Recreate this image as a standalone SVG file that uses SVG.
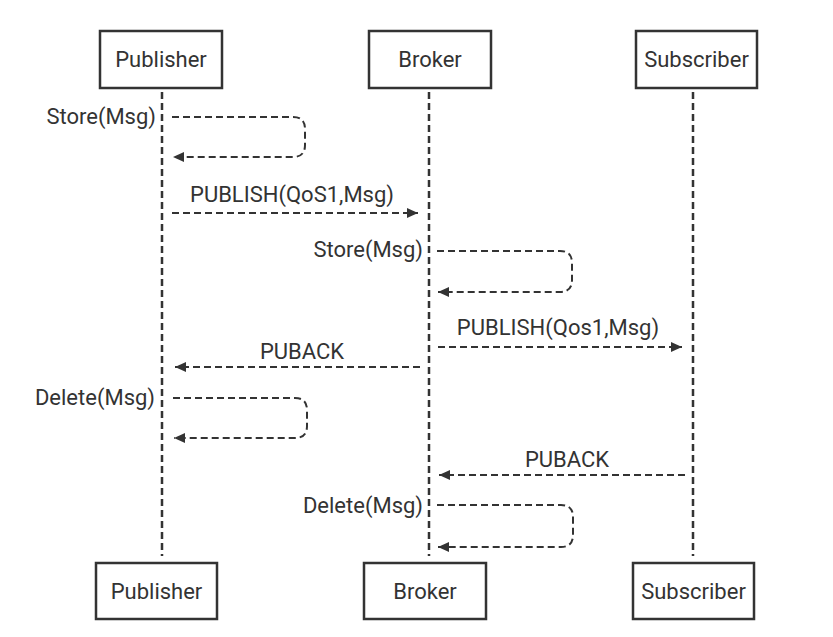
<svg xmlns="http://www.w3.org/2000/svg" width="833" height="637" viewBox="0 0 833 637">
<defs>
<style>
.box{fill:#fff;stroke:#333;stroke-width:2.5}
.t{font-family:Roboto,"Liberation Sans",sans-serif;font-size:22px;fill:#333}
.c{text-anchor:middle}
.e{text-anchor:end}
.life{stroke:#333;stroke-width:2.5;stroke-dasharray:7,4;fill:none}
.msg{stroke:#333;stroke-width:2;stroke-dasharray:7,4;fill:none;marker-end:url(#ah)}
</style>
<marker id="ah" markerWidth="12" markerHeight="10" refX="11" refY="5" orient="auto" markerUnits="userSpaceOnUse">
<path d="M0,0 L11,5 L0,10 Z" fill="#333"/>
</marker>
</defs>
<rect width="833" height="637" fill="#fff"/>
<g id="lifelines">
<line class="life" x1="162" y1="92" x2="162" y2="556"/>
<line class="life" x1="429" y1="92" x2="429" y2="556"/>
<line class="life" x1="693" y1="92" x2="693" y2="556"/>
</g>
<g id="publisher-top"><rect class="box" x="100" y="31" width="122" height="57"/><text class="t c" x="161" y="67">Publisher</text></g>
<g id="broker-top"><rect class="box" x="369" y="31" width="122" height="57"/><text class="t c" x="430" y="67">Broker</text></g>
<g id="subscriber-top"><rect class="box" x="636" y="31" width="121" height="57"/><text class="t c" x="696.5" y="67">Subscriber</text></g>
<g id="publisher-bottom"><rect class="box" x="96" y="563" width="121" height="56"/><text class="t c" x="156.5" y="599">Publisher</text></g>
<g id="broker-bottom"><rect class="box" x="364" y="563" width="122" height="56"/><text class="t c" x="425" y="599">Broker</text></g>
<g id="subscriber-bottom"><rect class="box" x="633" y="563" width="121" height="56"/><text class="t c" x="693.5" y="599">Subscriber</text></g>
<g id="connectors">
<path class="msg" d="M172,117 H293 Q305,117 305,129 V145 Q305,157 293,157 H173"/>
<path class="msg" d="M172,213 H418"/>
<path class="msg" d="M437,251 H560 Q572,251 572,263 V280 Q572,292 560,292 H438"/>
<path class="msg" d="M438,347 H682"/>
<path class="msg" d="M420,367 H175"/>
<path class="msg" d="M173,398 H295 Q307,398 307,410 V426 Q307,438 295,438 H174"/>
<path class="msg" d="M685,475 H439"/>
<path class="msg" d="M437,505 H561 Q573,505 573,517 V535 Q573,547 561,547 H438"/>
</g>
<g id="labels">
<text class="t e" x="156" y="124">Store(Msg)</text>
<text class="t c" x="292" y="202">PUBLISH(QoS1,Msg)</text>
<text class="t e" x="423" y="257">Store(Msg)</text>
<text class="t c" x="558" y="335">PUBLISH(Qos1,Msg)</text>
<text class="t c" x="302" y="359">PUBACK</text>
<text class="t e" x="155" y="405">Delete(Msg)</text>
<text class="t c" x="567" y="467">PUBACK</text>
<text class="t e" x="423" y="513">Delete(Msg)</text>
</g>
</svg>
